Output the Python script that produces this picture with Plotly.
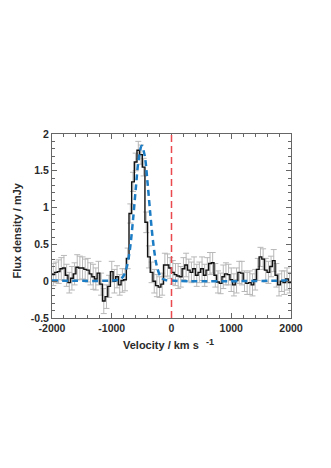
import numpy as np
import plotly.graph_objects as go

# Channel grid (km/s)
v_start = -2000.0
v_width = 4000.0 / 90

# Flux density per channel (mJy)
flux = [0.09, 0.12, 0.13, 0.17, 0.18, 0.08, -0.02, 0.04, 0.10, 0.19,
        0.18, 0.18, 0.16, 0.15, 0.10, 0.06, 0.03, 0.11, -0.04, -0.27,
        -0.21, -0.07, 0.13, 0.00, 0.06, -0.05, 0.01, 0.02, 0.31, 0.92,
        1.35, 1.62, 1.78, 1.72, 1.55, 0.80, 0.33, 0.12, 0.00, -0.06,
        -0.08, -0.04, 0.22, 0.22, 0.18, 0.12, 0.09, 0.07, 0.06, 0.17,
        0.22, 0.15, 0.12, 0.17, 0.08, 0.12, 0.17, 0.08, 0.15, 0.24,
        0.25, 0.08, -0.01, -0.03, 0.06, 0.10, 0.09, 0.02, -0.05, 0.01,
        0.12, 0.11, 0.00, -0.03, -0.02, -0.05, 0.02, 0.16, 0.33, 0.30,
        0.15, 0.12, 0.20, 0.28, 0.08, -0.05, 0.00, -0.02, 0.03, -0.02]

# 1-sigma errors per channel (mJy)
flux_err = [0.15, 0.14, 0.16, 0.15, 0.17, 0.15, 0.14, 0.16, 0.15, 0.17,
            0.16, 0.15, 0.14, 0.16, 0.15, 0.17, 0.15, 0.16, 0.15, 0.17,
            0.16, 0.15, 0.14, 0.16, 0.15, 0.14, 0.16, 0.15, 0.14, 0.13,
            0.13, 0.12, 0.12, 0.13, 0.12, 0.14, 0.15, 0.14, 0.16, 0.15,
            0.14, 0.15, 0.16, 0.15, 0.14, 0.16, 0.15, 0.17, 0.14, 0.15,
            0.16, 0.15, 0.14, 0.16, 0.15, 0.14, 0.16, 0.15, 0.17, 0.15,
            0.14, 0.16, 0.15, 0.14, 0.16, 0.15, 0.14, 0.16, 0.15, 0.17,
            0.15, 0.16, 0.14, 0.15, 0.16, 0.15, 0.14, 0.15, 0.13, 0.14,
            0.16, 0.15, 0.14, 0.15, 0.16, 0.15, 0.14, 0.16, 0.15, 0.14]

# Gaussian fit curve
fit_v = [-2000, -900, -850, -800, -750, -700, -650, -600, -550, -500,
         -450, -400, -350, -300, -250, -200, -150, -100, 2000]
fit_f = [0.01, 0.015, 0.03, 0.075, 0.19, 0.41, 0.78, 1.24, 1.65, 1.84,
         1.71, 1.33, 0.87, 0.48, 0.22, 0.09, 0.035, 0.017, 0.01]

x_ticks = [-2000, -1000, 0, 1000, 2000]
x_labels = ["-2000", "-1000", "0", "1000", "2000"]
y_ticks = [-0.5, 0, 0.5, 1, 1.5, 2]
y_labels = ["-0.5", "0", "0.5", "1", "1.5", "2"]

n = len(flux)
edges = v_start + v_width * np.arange(n + 1)
centers = edges[:-1] + v_width / 2
step_y = list(flux) + [flux[-1]]

font_fam = "Liberation Sans, Arial, sans-serif"
txt_col = "#2a2a2a"
ax_col = "#666666"

fig = go.Figure()

fig.add_trace(go.Scatter(
    x=centers, y=flux, mode="markers",
    marker=dict(size=0.1, color="rgba(0,0,0,0)"),
    error_y=dict(type="data", array=flux_err, color="#b8b8b8",
                 thickness=1, width=3),
    showlegend=False, hoverinfo="skip"))

fig.add_trace(go.Scatter(
    x=edges, y=step_y, mode="lines", line_shape="hv",
    line=dict(color="#111111", width=1.4), showlegend=False))

fig.add_trace(go.Scatter(
    x=fit_v, y=fit_f, mode="lines", line_shape="spline",
    line=dict(color="#1c7cc4", width=2.5, dash="6px,4px"),
    showlegend=False))

fig.add_shape(type="line", xref="x", yref="paper", x0=0, x1=0, y0=0, y1=1,
              line=dict(color="#ea4a4e", width=1.5, dash="7px,4px"))

axis_common = dict(
    showline=True, linecolor=ax_col, linewidth=1, mirror="ticks",
    ticks="inside", ticklen=5, tickcolor=ax_col, showgrid=False,
    zeroline=False,
    tickfont=dict(family=font_fam, size=10.5, color=txt_col, weight="bold"),
)

fig.update_xaxes(
    range=[-2000, 2000], tickvals=x_ticks, ticktext=x_labels,
    minor=dict(dtick=200, ticklen=3, ticks="inside", tickcolor=ax_col),
    **axis_common)
fig.update_yaxes(
    range=[-0.5, 2], tickvals=y_ticks, ticktext=y_labels,
    minor=dict(dtick=0.1, ticklen=3, ticks="inside", tickcolor=ax_col),
    **axis_common)

title_font = dict(family=font_fam, size=11, color=txt_col, weight="bold")
fig.add_annotation(text="Velocity / km s", xref="paper", yref="paper",
                   x=0.455, y=0, yshift=-26.5, xanchor="center",
                   yanchor="middle", showarrow=False, font=title_font)
fig.add_annotation(text="-1", xref="paper", yref="paper",
                   x=0.663, y=0, yshift=-23.5, xanchor="center",
                   yanchor="middle", showarrow=False,
                   font=dict(family=font_fam, size=9, color=txt_col,
                             weight="bold"))
fig.add_annotation(text="Flux density / mJy", xref="paper", yref="paper",
                   x=0, xshift=-34.8, y=0.477, xanchor="center",
                   yanchor="middle", textangle=-90, showarrow=False,
                   font=title_font)

fig.update_layout(
    width=331, height=468,
    margin=dict(l=43.5, r=47.5, t=126, b=158.3, autoexpand=False),
    paper_bgcolor="white", plot_bgcolor="white",
)

fig.write_html("out.html")
